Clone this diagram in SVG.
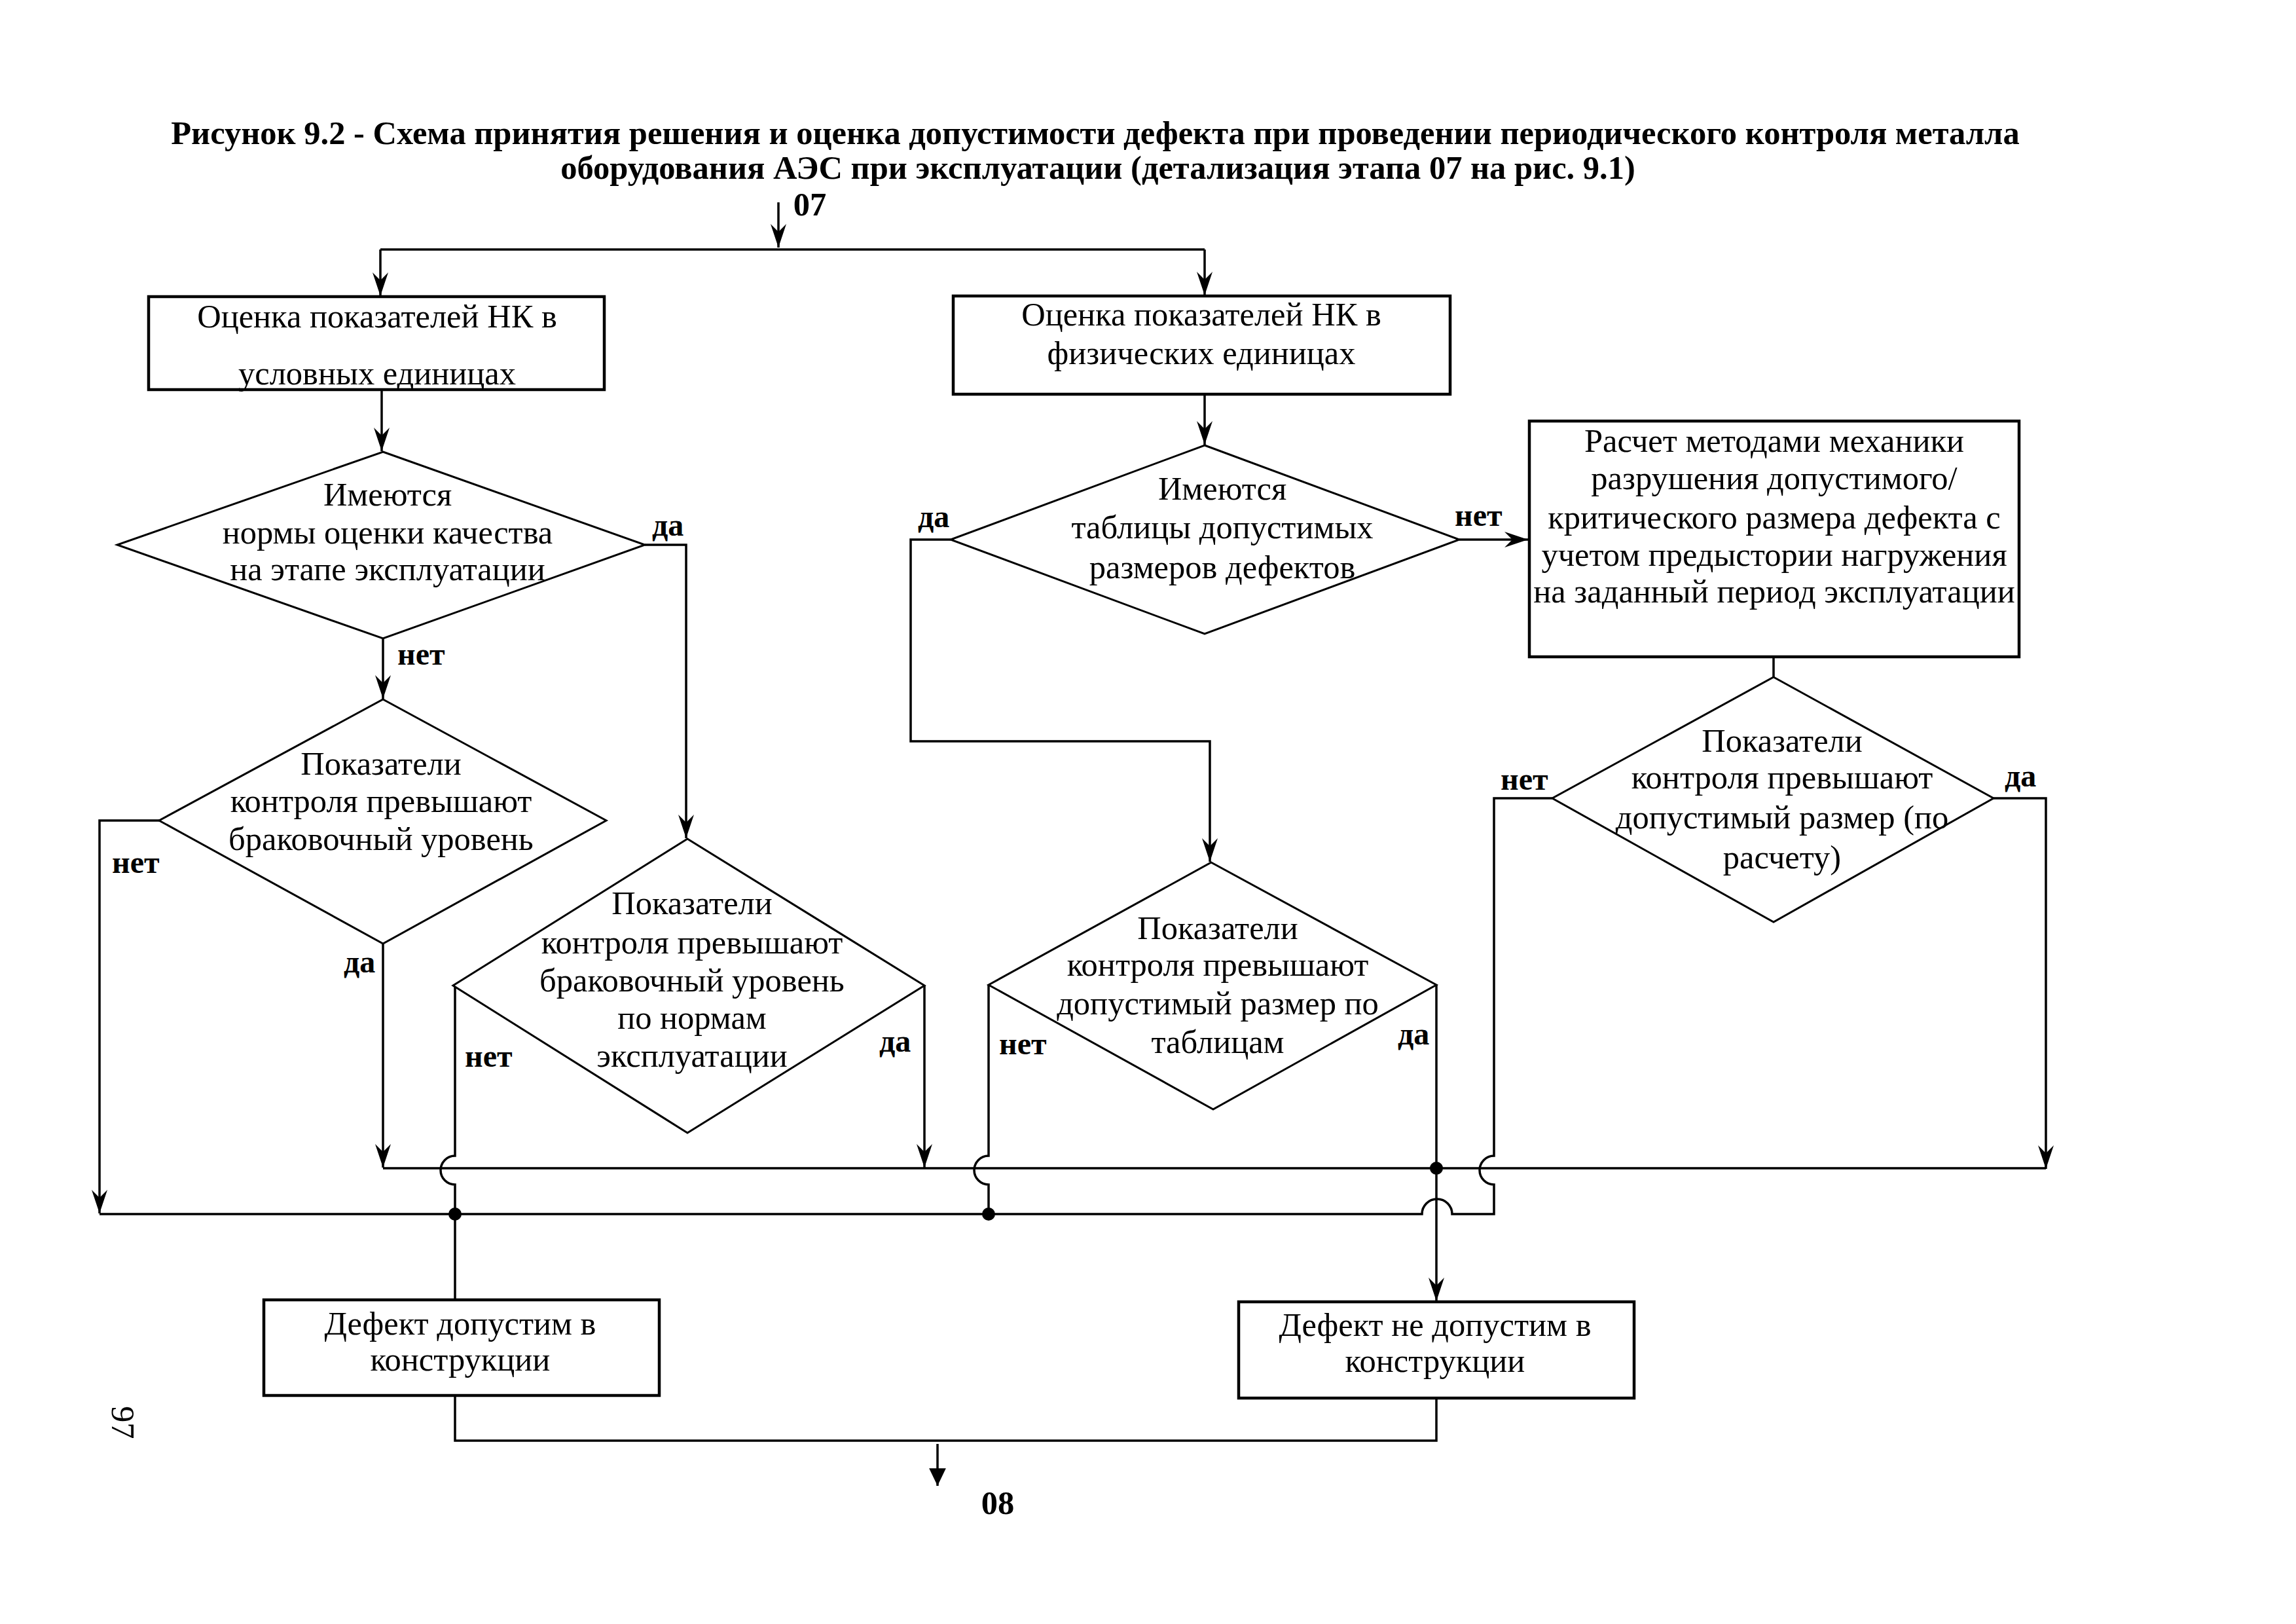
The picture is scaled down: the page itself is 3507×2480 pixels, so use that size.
<svg xmlns="http://www.w3.org/2000/svg" width="3507" height="2480" viewBox="0 0 3507 2480">
<style>
.t{font-family:"Liberation Serif","Times New Roman",serif;font-size:50.5px;fill:#000;text-anchor:middle}
.b{font-family:"Liberation Serif","Times New Roman",serif;font-size:48px;font-weight:bold;fill:#000}
.h{font-family:"Liberation Serif","Times New Roman",serif;font-size:50.5px;font-weight:bold;fill:#000;text-anchor:middle}
.box{fill:#fff;stroke:#000;stroke-width:4.5}
.dia{fill:#fff;stroke:#000;stroke-width:3}
.ln{fill:none;stroke:#000;stroke-width:3.5}
.ar{fill:none;stroke:#000;stroke-width:3.5;marker-end:url(#a)}
</style>
<defs>
<marker id="a" markerUnits="userSpaceOnUse" markerWidth="40" markerHeight="30" viewBox="-38 -13 40 26" refX="0" refY="0" orient="auto">
<path d="M0,0 L-36,-12 L-24,0 L-36,12 Z" fill="#000"/>
</marker>
<marker id="f" markerUnits="userSpaceOnUse" markerWidth="30" markerHeight="30" viewBox="-26 -13 28 26" refX="0" refY="0" orient="auto">
<path d="M0,0 L-25,-12 L-25,12 Z" fill="#000"/>
</marker>
</defs>
<rect width="3507" height="2480" fill="#fff"/>
<g id="title">
<text class="h" x="1673" y="220">Рисунок 9.2 - Схема принятия решения и оценка допустимости дефекта при проведении периодического контроля металла</text>
<text class="h" x="1677" y="273">оборудования АЭС при эксплуатации (детализация этапа 07 на рис. 9.1)</text>
<text class="h" x="1237" y="329">07</text>
<text class="t" x="171" y="2147" transform="rotate(90 171 2147)" style="text-anchor:start">97</text>
<text class="h" x="1524" y="2312">08</text>
</g>
<g id="connectors">
<path class="ar" d="M1189,309 L1189,378"/>
<path class="ln" d="M581,381 L1840,381"/>
<path class="ar" d="M581,381 L581,452"/>
<path class="ar" d="M1840,381 L1840,451"/>
<path class="ar" d="M583,597 L583,689"/>
<path class="ar" d="M585,975 L585,1067"/>
<path class="ar" d="M243,1253 L152,1253 L152,1853"/>
<path class="ar" d="M585,1441 L585,1783"/>
<path class="ar" d="M985,832 L1048,832 L1048,1280"/>
<path class="ln" d="M692,1505 L695,1505 L695,1765 A22,22 0 0 0 695,1809 L695,1987"/>
<path class="ar" d="M1412,1505 L1412,1783"/>
<path class="ln" d="M585,1784 L3125,1784"/>
<path class="ln" d="M152,1854 L2172,1854 A23,23 0 0 1 2218,1854 L2282,1854 L2282,1809 A22,22 0 0 1 2282,1765 L2282,1219 L2371,1219"/>
<path class="ar" d="M1840,604 L1840,679"/>
<path class="ar" d="M1452,824 L1391,824 L1391,1132 L1848,1132 L1848,1316"/>
<path class="ar" d="M2229,824 L2334,824"/>
<path class="ln" d="M2709,1003 L2709,1034"/>
<path class="ar" d="M3045,1219 L3125,1219 L3125,1785"/>
<path class="ln" d="M1510,1504 L1510,1765 A22,22 0 0 0 1510,1809 L1510,1854"/>
<path class="ar" d="M2194,1504 L2194,1987"/>
<path class="ln" d="M695,2132 L695,2200 L2194,2200 L2194,2136"/>
<path d="M1432,2205 L1432,2269" style="fill:none;stroke:#000;stroke-width:3.5;marker-end:url(#f)"/>
<circle cx="695" cy="1854" r="10" fill="#000"/>
<circle cx="1510" cy="1854" r="10" fill="#000"/>
<circle cx="2194" cy="1784" r="10" fill="#000"/>
<text class="b" x="996" y="818">да</text>
<text class="b" x="607" y="1015">нет</text>
<text class="b" x="171" y="1333">нет</text>
<text class="b" x="525" y="1485">да</text>
<text class="b" x="710" y="1629">нет</text>
<text class="b" x="1343" y="1606">да</text>
<text class="b" x="1402" y="805">да</text>
<text class="b" x="2222" y="803">нет</text>
<text class="b" x="1526" y="1610">нет</text>
<text class="b" x="2135" y="1595">да</text>
<text class="b" x="2292" y="1206">нет</text>
<text class="b" x="3062" y="1201">да</text>
</g>
<g id="n1">
<rect class="box" x="227" y="453" width="696" height="142"/>
<text class="t" x="576" y="500">Оценка показателей НК в</text>
<text class="t" x="576" y="587">условных единицах</text>
</g>
<g id="n2">
<rect class="box" x="1456" y="452" width="759" height="150"/>
<text class="t" x="1835" y="497">Оценка показателей НК в</text>
<text class="t" x="1835" y="556">физических единицах</text>
</g>
<g id="d1">
<polygon class="dia" points="585,690 985,832 585,975 179,832"/>
<text class="t" x="592" y="772">Имеются</text>
<text class="t" x="592" y="830">нормы оценки качества</text>
<text class="t" x="592" y="886">на этапе эксплуатации</text>
</g>
<g id="d4">
<polygon class="dia" points="1840,680 2229,824 1840,968 1452,824"/>
<text class="t" x="1867" y="763">Имеются</text>
<text class="t" x="1867" y="822">таблицы допустимых</text>
<text class="t" x="1867" y="883">размеров дефектов</text>
</g>
<g id="n3">
<rect class="box" x="2336" y="643" width="748" height="360"/>
<text class="t" x="2710" y="690">Расчет методами механики</text>
<text class="t" x="2710" y="747">разрушения допустимого/</text>
<text class="t" x="2710" y="807">критического размера дефекта с</text>
<text class="t" x="2710" y="864">учетом предыстории нагружения</text>
<text class="t" x="2710" y="920">на заданный период эксплуатации</text>
</g>
<g id="d2">
<polygon class="dia" points="585,1068 926,1253 585,1441 243,1253"/>
<text class="t" x="582" y="1183">Показатели</text>
<text class="t" x="582" y="1240">контроля превышают</text>
<text class="t" x="582" y="1298">браковочный уровень</text>
</g>
<g id="d3">
<polygon class="dia" points="1050,1281 1412,1505 1050,1730 692,1505"/>
<text class="t" x="1057" y="1396">Показатели</text>
<text class="t" x="1057" y="1456">контроля превышают</text>
<text class="t" x="1057" y="1514">браковочный уровень</text>
<text class="t" x="1057" y="1571">по нормам</text>
<text class="t" x="1057" y="1629">эксплуатации</text>
</g>
<g id="d5">
<polygon class="dia" points="2709,1034 3045,1219 2709,1408 2371,1219"/>
<text class="t" x="2722" y="1148">Показатели</text>
<text class="t" x="2722" y="1204">контроля превышают</text>
<text class="t" x="2722" y="1265">допустимый размер (по</text>
<text class="t" x="2722" y="1326">расчету)</text>
</g>
<g id="d6">
<polygon class="dia" points="1850,1317 2194,1504 1853,1694 1510,1504"/>
<text class="t" x="1860" y="1434">Показатели</text>
<text class="t" x="1860" y="1490">контроля превышают</text>
<text class="t" x="1860" y="1549">допустимый размер по</text>
<text class="t" x="1860" y="1608">таблицам</text>
</g>
<g id="n4">
<rect class="box" x="403" y="1985" width="604" height="146"/>
<text class="t" x="703" y="2038">Дефект допустим в</text>
<text class="t" x="703" y="2093">конструкции</text>
</g>
<g id="n5">
<rect class="box" x="1892" y="1988" width="604" height="147"/>
<text class="t" x="2192" y="2040">Дефект не допустим в</text>
<text class="t" x="2192" y="2095">конструкции</text>
</g>
</svg>
